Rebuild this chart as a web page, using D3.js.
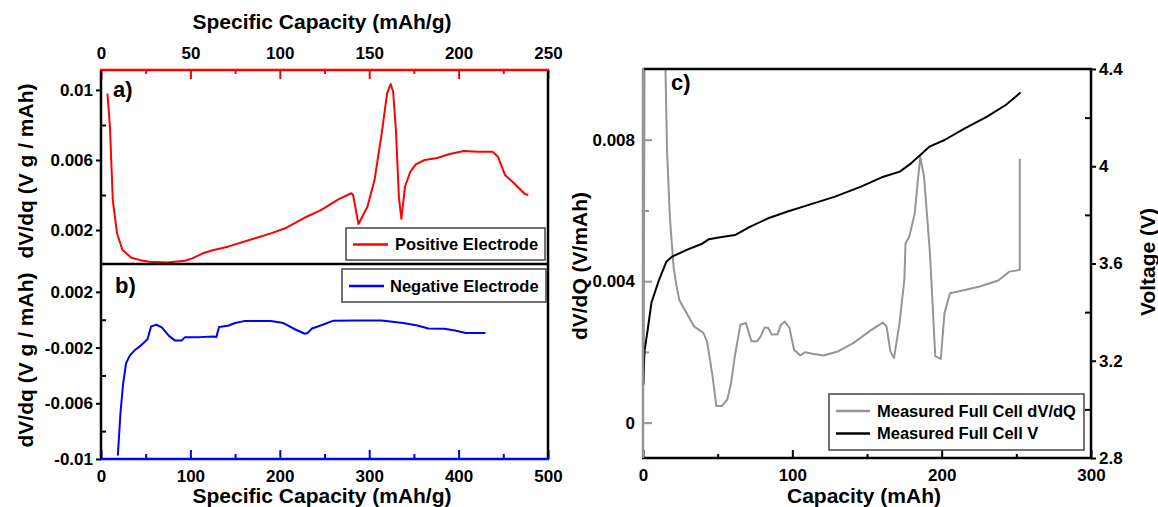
<!DOCTYPE html>
<html>
<head>
<meta charset="utf-8">
<script src="https://cdn.jsdelivr.net/npm/d3@7"></script>
<style>
  html, body { margin: 0; padding: 0; background: #fff; }
  svg { display: block; }
  text { font-family: "Liberation Sans", Arial, sans-serif; font-weight: bold; }
</style>
</head>
<body>
<svg id="chart" width="1158" height="507"></svg>
<script>
// ---- Positive electrode dV/dq vs specific capacity (panel a) ----
const posCap = [3.6, 5, 6.6, 9, 12, 17, 22, 27, 37, 47, 51, 57, 63, 71, 83, 95, 103, 115, 123, 133,
  140, 141, 144, 149, 153, 157, 160, 162, 163.4, 165, 166.6, 168, 170, 173, 176, 181, 188, 195,
  203, 211, 219, 222, 226, 231, 237, 239];
const posDvdq = [0.0098, 0.0079, 0.0037, 0.0018, 0.00086, 0.00042, 0.00028, 0.00019, 0.00015, 0.00025,
  0.00038, 0.00067, 0.00086, 0.00105, 0.00143, 0.00181, 0.0021, 0.00276, 0.00314, 0.00377,
  0.0041, 0.004, 0.00234, 0.00333, 0.00486, 0.00752, 0.0098, 0.01034, 0.0099, 0.0076, 0.0039,
  0.00263, 0.00447, 0.00533, 0.00575, 0.006, 0.00611, 0.00634, 0.00651, 0.00647, 0.00647,
  0.00619, 0.00514, 0.00467, 0.00406, 0.004];

// ---- Negative electrode dV/dq vs specific capacity (panel b) ----
const negCap = [18.8, 22, 24.8, 28, 32, 38, 44, 52, 56, 62, 68, 76, 83, 90, 94, 110, 126, 129, 132,
  142, 150, 160, 190, 204, 218, 228, 231, 236, 248, 260, 286, 314, 338, 354, 366, 384, 396, 408, 430];
const negDvdq = [-0.00976, -0.0065, -0.00458, -0.00313, -0.0026, -0.00217, -0.00188, -0.0014, -0.00048,
  -0.00036, -0.00055, -0.00116, -0.0015, -0.0015, -0.00125, -0.00125, -0.0012, -0.00125, -0.00053,
  -0.00043, -0.00024, -0.0001, -0.0001, -0.00024, -0.00072, -0.00101, -0.00096, -0.00063, -0.00036,
  -0.00007, -0.00005, -0.00005, -0.00024, -0.00041, -0.00063, -0.00065, -0.00077, -0.00096, -0.00096];

// ---- Full cell measurements (panel c) ----
const cellCapD = [0.4, 1.2, 14.6, 15.1, 16.1, 18.0, 20.5, 22.3, 24.3, 29.2, 34.2, 40.4, 42.9, 46.6, 49.1,
  52.8, 56.5, 59.0, 61.5, 65.2, 68.9, 72.6, 76.3, 78.8, 81.3, 83.8, 86.2, 90.0, 92.4, 94.9, 98.1,
  101.1, 105.3, 108.5, 113.5, 121.0, 130.9, 140.8, 153.2, 160.6, 163.1, 165.6, 168.1, 171.8,
  175.0, 175.8, 178.3, 182.0, 183.8, 185.7, 188.2, 192.0, 193.2, 195.7, 199.4, 201.9, 205.6,
  215.5, 225.5, 237.9, 245.3, 252.3, 252.3];
const cellDvdq = [0.0011, 0.0125, 0.0125, 0.00986, 0.0077, 0.0058, 0.0044, 0.0039, 0.00347, 0.0031,
  0.00272, 0.00254, 0.0023, 0.00131, 0.00047, 0.00047, 0.00066, 0.00113, 0.00188, 0.00277,
  0.00282, 0.0023, 0.0023, 0.00244, 0.00268, 0.00268, 0.00249, 0.00249, 0.00277, 0.00286,
  0.00268, 0.00206, 0.0019, 0.00199, 0.00195, 0.0019, 0.00202, 0.00225, 0.00263, 0.00283,
  0.00272, 0.00202, 0.00183, 0.00282, 0.00404, 0.00507, 0.00526, 0.00592, 0.00676, 0.00751,
  0.00695, 0.00488, 0.00394, 0.00188, 0.0018, 0.0031, 0.00366, 0.00375, 0.00385, 0.00402,
  0.00427, 0.00432, 0.00746];
const cellCapV = [0.2, 1.0, 3.2, 5.7, 10.7, 15.6, 19.4, 29.3, 39.2, 44.2, 51.7, 61.6, 71.5, 83.9, 96.3,
  111, 128.6, 146, 161, 172, 179.5, 185.7, 191.9, 201.9, 215.5, 230.4, 242.9, 252.8];
const cellV = [3.1, 3.24, 3.33, 3.44, 3.532, 3.607, 3.628, 3.656, 3.68, 3.70, 3.708, 3.717, 3.751,
  3.786, 3.813, 3.841, 3.875, 3.916, 3.957, 3.978, 4.012, 4.046, 4.081, 4.108, 4.156, 4.204,
  4.252, 4.303];

// ---- Tick values ----
const specTopMajor = [0, 50, 100, 150, 200, 250];
const specTopMinor = [25, 75, 125, 175, 225];
const specBottomMajor = [0, 100, 200, 300, 400, 500];
const specBottomMinor = [50, 150, 250, 350, 450];
const posTickMajor = [0.002, 0.006, 0.01];
const posTickMinor = [0.004, 0.008];
const negTickMajor = [0.002, -0.002, -0.006, -0.01];
const negTickMinor = [0, -0.004, -0.008];
const cellCapMajor = [0, 100, 200, 300];
const cellCapMinor = [50, 150, 250];
const cellDvdqMajor = [0, 0.004, 0.008];
const cellDvdqMinor = [0.002, 0.006];
const voltMajor = [2.8, 3.2, 3.6, 4, 4.4];
const voltMinor = [3.0, 3.4, 3.8, 4.2];

const svg = d3.select("#chart");
svg.append("rect").attr("width", 1158).attr("height", 507).attr("fill", "#fff");

// Scales
const ab = { left: 101, right: 548, top: 70, mid: 264, bottom: 459 };
const cc = { left: 643, right: 1091, top: 69, bottom: 458 };
const xA = d3.scaleLinear([0, 250], [ab.left, ab.right]);
const yA = d3.scaleLinear([0.00006, 0.01114], [ab.mid, ab.top]);
const xB = d3.scaleLinear([0, 500], [ab.left, ab.right]);
const yB = d3.scaleLinear([-0.01, 0.004], [ab.bottom, ab.mid]);
const xC = d3.scaleLinear([0, 300], [cc.left, cc.right]);
const yC = d3.scaleLinear([-0.001, 0.01], [cc.bottom, cc.top]);
const vC = d3.scaleLinear([2.8, 4.4], [cc.bottom, cc.top]);

const fmt = d => String(+(+d).toFixed(4));
const tickFont = "17px";
const titleFont = "21px";

function drawAxis(orient, scale, at, values, size, pad, color, labels) {
  const maker = { top: d3.axisTop, bottom: d3.axisBottom, left: d3.axisLeft, right: d3.axisRight }[orient];
  const gen = maker(scale).tickValues(values).tickSize(size).tickPadding(pad)
    .tickFormat(labels ? fmt : () => "");
  const horiz = orient === "top" || orient === "bottom";
  const g = svg.append("g")
    .attr("transform", horiz ? `translate(0,${at})` : `translate(${at},0)`)
    .attr("font-size", null).attr("font-family", null)
    .call(gen);
  g.select(".domain").remove();
  g.selectAll(".tick line").attr("stroke", color).attr("stroke-width", 2);
  g.selectAll(".tick text").attr("fill", "#000").style("font-size", tickFont);
  return g;
}

function line(x1, y1, x2, y2, color, w) {
  svg.append("line").attr("x1", x1).attr("y1", y1).attr("x2", x2).attr("y2", y2)
    .attr("stroke", color).attr("stroke-width", w);
}

// Clip regions
const defs = svg.append("defs");
defs.append("clipPath").attr("id", "clipA").append("rect")
  .attr("x", ab.left).attr("y", ab.top).attr("width", ab.right - ab.left).attr("height", ab.mid - ab.top);
defs.append("clipPath").attr("id", "clipB").append("rect")
  .attr("x", ab.left).attr("y", ab.mid).attr("width", ab.right - ab.left).attr("height", ab.bottom - ab.mid);
defs.append("clipPath").attr("id", "clipC").append("rect")
  .attr("x", cc.left).attr("y", cc.top).attr("width", cc.right - cc.left).attr("height", cc.bottom - cc.top);

// ---------- Panels a & b ----------
drawAxis("top", xA, ab.top, specTopMajor, -9, 11, "#f00", true);
drawAxis("top", xA, ab.top, specTopMinor, -4, 11, "#f00", false);
drawAxis("bottom", xB, ab.bottom, specBottomMajor, -9, 11, "#00f", true);
drawAxis("bottom", xB, ab.bottom, specBottomMinor, -5, 11, "#00f", false);
drawAxis("left", yA, ab.left, posTickMajor, 5, 3, "#000", true);
drawAxis("left", yA, ab.left, posTickMinor, -5, 3, "#000", false);
drawAxis("left", yB, ab.left, negTickMajor, 5, 3, "#000", true);
drawAxis("left", yB, ab.left, negTickMinor, -5, 3, "#000", false);

const pos = posCap.map((c, i) => [c, posDvdq[i]]);
const neg = negCap.map((c, i) => [c, negDvdq[i]]);

svg.append("path").datum(pos).attr("clip-path", "url(#clipA)")
  .attr("fill", "none").attr("stroke", "#f00").attr("stroke-width", 2).attr("stroke-linejoin", "round")
  .attr("d", d3.line().x(d => xA(d[0])).y(d => yA(d[1])));
svg.append("path").datum(neg).attr("clip-path", "url(#clipB)")
  .attr("fill", "none").attr("stroke", "#00f").attr("stroke-width", 2).attr("stroke-linejoin", "round")
  .attr("d", d3.line().x(d => xB(d[0])).y(d => yB(d[1])));

// frame
line(ab.left, ab.top, ab.left, ab.bottom, "#000", 2.5);
line(ab.right, ab.top, ab.right, ab.bottom, "#000", 2.5);
line(ab.left, ab.mid, ab.right, ab.mid, "#000", 2.5);
line(ab.left - 1, ab.top, ab.right + 1, ab.top, "#f00", 2.5);
line(ab.left - 1, ab.bottom, ab.right + 1, ab.bottom, "#00f", 2.5);

// legends
function legend(x, y, w, h, items) {
  svg.append("rect").attr("x", x).attr("y", y).attr("width", w).attr("height", h)
    .attr("fill", "#fff").attr("stroke", "#444").attr("stroke-width", 1.5);
  items.forEach(it => {
    line(it.x1, it.y, it.x2, it.y, it.color, 2.5);
    svg.append("text").attr("x", it.tx).attr("y", it.y + 5.8).style("font-size", "16.5px").text(it.label);
  });
}
legend(346, 228, 199, 32, [{ x1: 353, x2: 388, y: 244.5, tx: 395, color: "#f00", label: "Positive Electrode" }]);
legend(342, 269, 204, 33, [{ x1: 349, x2: 384, y: 286, tx: 390, color: "#00f", label: "Negative Electrode" }]);

// panel letters
svg.append("text").attr("x", 113).attr("y", 97).style("font-size", "22px").text("a)");
svg.append("text").attr("x", 115).attr("y", 293).style("font-size", "22px").text("b)");

// axis titles a/b
svg.append("text").attr("x", 322).attr("y", 29).attr("text-anchor", "middle").style("font-size", titleFont)
  .text("Specific Capacity (mAh/g)");
svg.append("text").attr("x", 322).attr("y", 503).attr("text-anchor", "middle").style("font-size", titleFont)
  .text("Specific Capacity (mAh/g)");
svg.append("text").attr("transform", "translate(33,171) rotate(-90)").attr("text-anchor", "middle")
  .style("font-size", titleFont).text("dV/dq (V g / mAh)");
svg.append("text").attr("transform", "translate(33,360) rotate(-90)").attr("text-anchor", "middle")
  .style("font-size", titleFont).text("dV/dq (V g / mAh)");

// ---------- Panel c ----------
const grey = "#959595";
drawAxis("bottom", xC, cc.bottom, cellCapMajor, -8, 11, "#000", true);
drawAxis("bottom", xC, cc.bottom, cellCapMinor, -4, 11, "#000", false);
drawAxis("left", yC, cc.left, cellDvdqMajor, -9, 8, grey, true);
drawAxis("left", yC, cc.left, cellDvdqMinor, -6, 8, grey, false);
drawAxis("right", vC, cc.right, voltMajor, 5, 3, "#000", true);
drawAxis("right", vC, cc.right, voltMinor, -6, 3, "#000", false);

const cellD = cellCapD.map((c, i) => [c, cellDvdq[i]]);
const cellVolt = cellCapV.map((c, i) => [c, cellV[i]]);
svg.append("path").datum(cellD).attr("clip-path", "url(#clipC)")
  .attr("fill", "none").attr("stroke", grey).attr("stroke-width", 2).attr("stroke-linejoin", "round")
  .attr("d", d3.line().x(d => xC(d[0])).y(d => yC(d[1])));
svg.append("path").datum(cellVolt).attr("clip-path", "url(#clipC)")
  .attr("fill", "none").attr("stroke", "#000").attr("stroke-width", 2).attr("stroke-linejoin", "round")
  .attr("d", d3.line().x(d => xC(d[0])).y(d => vC(d[1])));

line(cc.left, cc.top, cc.right + 1, cc.top, "#000", 2.5);
line(cc.left - 1, cc.bottom, cc.right + 1, cc.bottom, "#000", 2.5);
line(cc.right, cc.top - 1, cc.right, cc.bottom + 1, "#000", 2.5);
line(cc.left, cc.top - 1, cc.left, cc.bottom, grey, 2.5);

legend(829, 394, 255, 56, [
  { x1: 836, x2: 870, y: 411, tx: 877, color: grey, label: "Measured Full Cell dV/dQ" },
  { x1: 836, x2: 870, y: 433.5, tx: 877, color: "#000", label: "Measured Full Cell V" }
]);

svg.append("text").attr("x", 671).attr("y", 90).style("font-size", "22px").text("c)");
svg.append("text").attr("x", 864).attr("y", 503).attr("text-anchor", "middle").style("font-size", titleFont)
  .text("Capacity (mAh)");
svg.append("text").attr("transform", "translate(587,266) rotate(-90)").attr("text-anchor", "middle")
  .style("font-size", titleFont).text("dV/dQ (V/mAh)");
svg.append("text").attr("transform", "translate(1155,262) rotate(-90)").attr("text-anchor", "middle")
  .style("font-size", titleFont).text("Voltage (V)");
</script>
</body>
</html>
